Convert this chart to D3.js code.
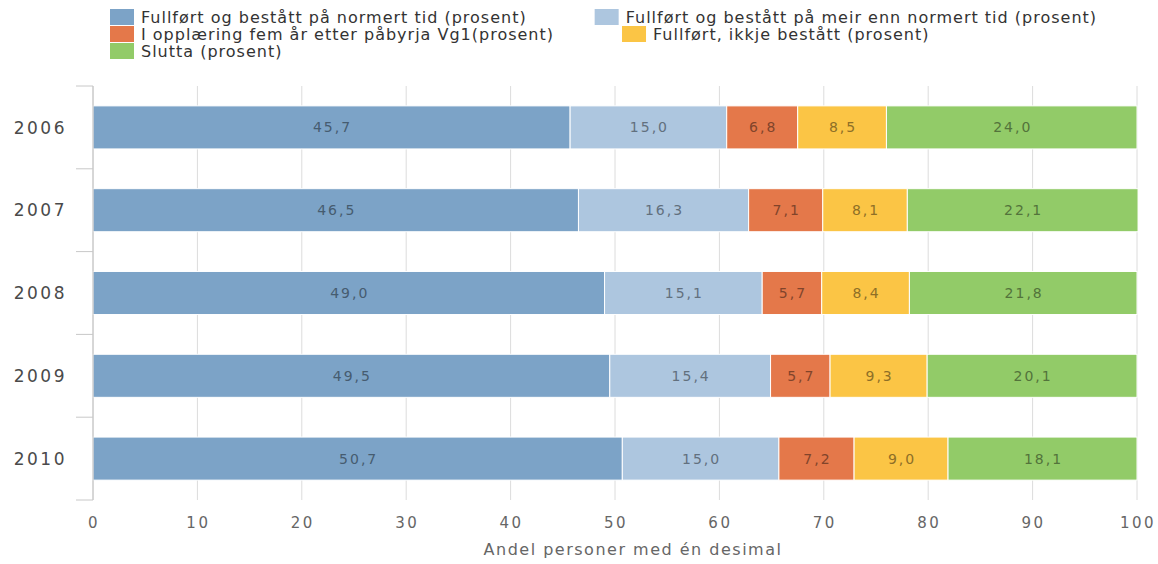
<!DOCTYPE html>
<html>
<head>
<meta charset="utf-8">
<script src="https://cdn.jsdelivr.net/npm/d3@7"></script>
<style>
  body { margin: 0; background: #fff; }
  text { font-family: "DejaVu Sans", Verdana, sans-serif; }
</style>
</head>
<body>
<div id="chart"></div>
<script>
const years = ['2006', '2007', '2008', '2009', '2010']
const seriesNames = [
  'Fullført og bestått på normert tid (prosent)',
  'Fullført og bestått på meir enn normert tid (prosent)',
  'I opplæring fem år etter påbyrja Vg1(prosent)',
  'Fullført, ikkje bestått (prosent)',
  'Slutta (prosent)'
]
const normertTid = [45.7, 46.5, 49.0, 49.5, 50.7]
const meirEnnNormert = [15.0, 16.3, 15.1, 15.4, 15.0]
const iOpplaering = [6.8, 7.1, 5.7, 5.7, 7.2]
const ikkjeBestatt = [8.5, 8.1, 8.4, 9.3, 9.0]
const slutta = [24.0, 22.1, 21.8, 20.1, 18.1]
const xTicks = [0, 10, 20, 30, 40, 50, 60, 70, 80, 90, 100]
const colors = ['#7ca3c7', '#adc6df', '#e4784a', '#fbc545', '#92cb68']

const values = [normertTid, meirEnnNormert, iOpplaering, ikkjeBestatt, slutta]

const width = 1158
const height = 564

const svg = d3.select('#chart').append('svg').attr('width', width).attr('height', height)

const x = d3.scaleLinear().domain([0, 100]).range([93, 1137])
const y = d3.scaleBand().domain(years).range([86, 500]).paddingInner(0.48).paddingOuter(0.24)

// grid
svg.append('g')
  .selectAll('line')
  .data(xTicks)
  .join('line')
  .attr('x1', d => x(d)).attr('x2', d => x(d))
  .attr('y1', 86).attr('y2', 500)
  .attr('stroke', '#dcdcdc')
  .attr('stroke-width', 1)

// stacked rows
const rows = years.map((yr, i) => {
  let acc = 0
  return values.map((s, k) => {
    const seg = { year: yr, k, value: s[i], x0: acc, x1: acc + s[i] }
    acc += s[i]
    return seg
  })
}).flat()

svg.append('g')
  .selectAll('rect')
  .data(rows)
  .join('rect')
  .attr('x', d => x(d.x0))
  .attr('y', d => y(d.year))
  .attr('width', d => x(d.x1) - x(d.x0))
  .attr('height', y.bandwidth())
  .attr('fill', d => colors[d.k])
  .attr('stroke', '#fff')
  .attr('stroke-width', 1)

svg.append('g')
  .selectAll('text')
  .data(rows)
  .join('text')
  .attr('x', d => (x(d.x0) + x(d.x1)) / 2 + 1)
  .attr('y', d => y(d.year) + y.bandwidth() / 2)
  .attr('dy', '0.36em')
  .attr('text-anchor', 'middle')
  .attr('font-size', 14)
  .attr('letter-spacing', 2)
  .attr('fill', d => d3.color(colors[d.k]).darker(1.6))
  .text(d => d.value.toFixed(1).replace('.', ','))

// y axis
const bounds = years.map(yr => y(yr) - y.step() * y.paddingInner() / 2)
bounds.push(500)
svg.append('line')
  .attr('x1', 93).attr('x2', 93).attr('y1', 86).attr('y2', 500)
  .attr('stroke', '#c0c0c0')
svg.append('g')
  .selectAll('line')
  .data(bounds)
  .join('line')
  .attr('x1', 76).attr('x2', 93)
  .attr('y1', d => d).attr('y2', d => d)
  .attr('stroke', '#c8c8c8')
svg.append('g')
  .selectAll('text')
  .data(years)
  .join('text')
  .attr('x', 67)
  .attr('y', d => y(d) + y.bandwidth() / 2)
  .attr('dy', '0.36em')
  .attr('text-anchor', 'end')
  .attr('font-size', 17)
  .attr('letter-spacing', 2.5)
  .attr('fill', '#4a4a4a')
  .text(d => d)

// x axis labels
svg.append('g')
  .selectAll('text')
  .data(xTicks)
  .join('text')
  .attr('x', d => x(d) + 1)
  .attr('y', 528)
  .attr('text-anchor', 'middle')
  .attr('font-size', 15)
  .attr('letter-spacing', 2.5)
  .attr('fill', '#666')
  .text(d => d)

svg.append('text')
  .attr('x', 633)
  .attr('y', 555)
  .attr('text-anchor', 'middle')
  .attr('font-size', 16)
  .attr('letter-spacing', 1.5)
  .attr('fill', '#666')
  .text('Andel personer med én desimal')

// legend, flowing items
const legend = svg.append('g')
const legendLeft = 110
const legendRight = 1150
let lx = legendLeft
let ly = 17
seriesNames.forEach((name, k) => {
  const g = legend.append('g')
  const t = g.append('text')
    .attr('x', 31)
    .attr('y', 0)
    .attr('dy', '0.36em')
    .attr('font-size', 16)
    .attr('letter-spacing', 1)
    .attr('fill', '#333')
    .text(name)
  const w = 31 + t.node().getComputedTextLength()
  if (lx > legendLeft && lx + w > legendRight) {
    lx = legendLeft
    ly += 17
  }
  g.attr('transform', `translate(${lx},${ly})`)
  g.insert('rect', 'text')
    .attr('x', 0).attr('y', -8)
    .attr('width', 24).attr('height', 16)
    .attr('fill', colors[k])
  lx += w + 68
})
</script>
</body>
</html>
